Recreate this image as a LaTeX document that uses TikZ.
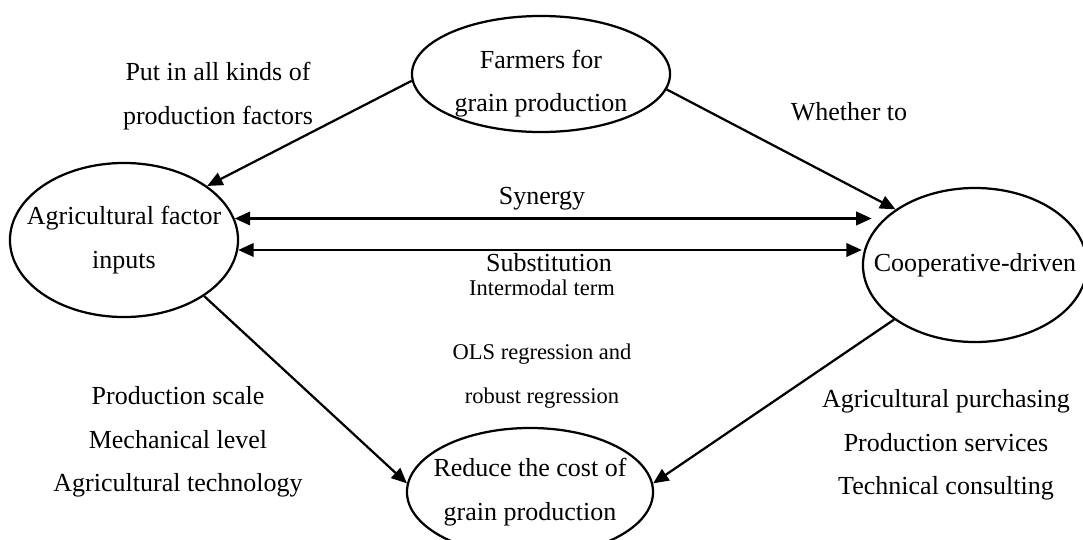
\documentclass[tikz,border=0pt]{standalone}
\usepackage{fontspec}
\setmainfont{Liberation Serif}
\usetikzlibrary{shapes.geometric, arrows.meta}

\tikzset{
  blob/.style={draw, ellipse, line width=1.6pt, inner sep=0pt},
  flow/.style={line width=1.6pt, -{Triangle[length=11pt, width=9.5pt]}},
  twoway/.style={line width=1.8pt, {Triangle[length=11pt, width=9.5pt]}-{Triangle[length=11pt, width=9.5pt]}},
  big/.style={font=\fontsize{18.5}{31}\selectfont, align=center},
  small/.style={font=\fontsize{16}{31}\selectfont, align=center},
}

\begin{document}
\begin{tikzpicture}[x=0.025cm, y=-0.025cm]
\useasboundingbox (0,0) rectangle (1083,539);

% the four ellipses
\node[blob, minimum width=6.45cm, minimum height=2.9cm, label={[big, yshift=-7pt]center:Farmers for\\grain production}] (farm) at (541,74) {};
\node[blob, minimum width=5.7cm, minimum height=3.85cm, label={[big]center:Agricultural factor\\inputs}] (agri) at (124,240) {};
\node[blob, minimum width=5.6cm, minimum height=3.85cm, label={[big]center:Cooperative-driven}] (coop) at (975,265) {};
\node[blob, minimum width=6.15cm, minimum height=3.2cm, label={[big]center:Reduce the cost of\\grain production}] (cost) at (530,492) {};

% connectors
\draw[flow] (farm.183) -- (agri.33);
\draw[flow] (farm.-7) -- (coop.145);
\draw[flow] (agri.-35) -- (cost.176);
\draw[flow] (coop.214) -- (cost.4);
\draw[twoway] (agri.11) -- ([xshift=7] agri.11 -| coop.west);
\draw[twoway] (agri.-5) -- (agri.-5 -| coop.west);

% labels
\node[big] (putin) at (218,96) {Put in all kinds of\\production factors};
\node[big] (whether) at (849,112) {Whether to};
\node[big] (syn) at (542,199) {Synergy};
\node[big] (subst) at (549,263) {Substitution};
\node[small] (inter) at (542,288) {Intermodal term};
\node[small] (ols) at (542,376) {OLS regression and\\robust regression};
\node[big] (leftlist) at (178,442) {Production scale\\Mechanical level\\Agricultural technology};
\node[big] (rightlist) at (946,445) {Agricultural purchasing\\Production services\\Technical consulting};

\end{tikzpicture}
\end{document}
